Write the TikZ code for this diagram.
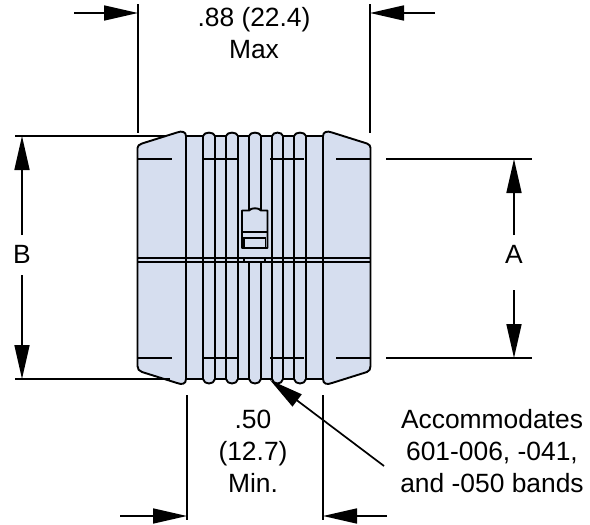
\documentclass[tikz,border=0pt]{standalone}
\usepackage{fontspec}
\setmainfont{Liberation Sans}
\usetikzlibrary{arrows.meta}

\begin{document}
\begin{tikzpicture}[
x=1pt, y=-1pt,
body/.style={fill=bodyblue, draw=black, line width=1.9pt, line join=round},
part/.style={draw=black, line width=1.9pt},
dimline/.style={draw=black, line width=1.7pt},
dimarrow/.style={draw=black, line width=1.7pt, -{Triangle[length=34pt, width=15pt]}},
dimtext/.style={font=\fontsize{26.4}{31.8}\selectfont, align=center, inner sep=0 pt},
]
\definecolor{bodyblue}{HTML}{D6DEEF}
\useasboundingbox (0,0) rectangle (590,525);

% body outline
\path[body]
(137.5,148) .. controls (137.5,146) and (139,144.5) .. (142,143.5)
-- (177,132.5) .. controls (182,130.5) and (186,132) .. (186,136)
foreach \xa/\xb in {203/215, 226/238, 249/261, 272/283, 294/306}
{ -- (\xa,136) .. controls (\xa+1,131.5) and (\xb-1,131.5) .. (\xb,136) }
-- (323,136) .. controls (323,132) and (327,130.5) .. (332,132.5)
-- (367,143.5) .. controls (369.5,144.5) and (370.5,146) .. (370.5,148)
-- (370.5,366) .. controls (370.5,369) and (369.5,371) .. (367,372)
-- (332,383) .. controls (327,385) and (323,384) .. (323,379)
foreach \xa/\xb in {306/294, 283/272, 261/249, 238/226, 215/203}
{ -- (\xa,379) .. controls (\xa-1,385) and (\xb+1,385) .. (\xb,379) }
-- (186,379) .. controls (186,384) and (182,385) .. (177,383)
-- (142,372) .. controls (139,371) and (137.5,369) .. (137.5,366)
-- cycle;

% vertical lines
\draw[part] foreach \x in {186,203,215,226,238,272,283,294,306,323}
{(\x,136) -- (\x,379)};
\draw[part] foreach \x in {249,261}
{(\x,136) -- (\x,210) (\x,262) -- (\x,379)};

% centre seam
\draw[part]
(137.5,258) -- (370.5,258)
(137.5,262) -- (370.5,262)
(244,258) -- (244,262)
(265,258) -- (265,262)
;

% short horizontal marks
\draw[part] foreach \y in {159,358}
{(137.5,\y) -- (172,\y)
(203,\y) -- (238,\y)
(270,\y) -- (304,\y)
(336,\y) -- (370.5,\y)};

% latch
\draw[part, fill=bodyblue, line join=round]
(242,248) -- (242,210.5) -- (249,210.5)
.. controls (251,207.5) and (259,207.5) .. (261,210.5)
-- (267.5,210.5) -- (267.5,248) -- cycle;
\draw[part]
(242,232) -- (267.5,232)
(244,238) rectangle (265.5,247.5)
;

% extension lines
\path
(138,4) coordinate(wl1) (138,133) coordinate(wl2)
(370,4) coordinate(wr1) (370,133) coordinate(wr2)
(15,136) coordinate(bt1) (165,136) coordinate(bt2)
(15,379) coordinate(bb1) (170,379) coordinate(bb2)
(386,159) coordinate(at1) (532,159) coordinate(at2)
(386,358) coordinate(ab1) (532,358) coordinate(ab2)
(187,395) coordinate(ml1) (187,520) coordinate(ml2)
(323,395) coordinate(mr1) (323,520) coordinate(mr2)
;
\draw[dimline]
(wl1) -- (wl2)
(wr1) -- (wr2)
(bt1) -- (bt2)
(bb1) -- (bb2)
(at1) -- (at2)
(ab1) -- (ab2)
(ml1) -- (ml2)
(mr1) -- (mr2)
;

% dimension arrows
\path
(74,13) coordinate(wla) (138,13) coordinate(wlb)
(435,13) coordinate(wra) (370,13) coordinate(wrb)
(22,235) coordinate(bta) (22,136) coordinate(btb)
(22,275) coordinate(bba) (22,379) coordinate(bbb)
(514,235) coordinate(ata) (514,159) coordinate(atb)
(514,290) coordinate(aba) (514,358) coordinate(abb)
(120,516) coordinate(mla) (187,516) coordinate(mlb)
(387,516) coordinate(mra) (323,516) coordinate(mrb)
(384,466) coordinate(lda) (270,380) coordinate(ldb)
;
\draw[dimarrow] (wla) -- (wlb);
\draw[dimarrow] (wra) -- (wrb);
\draw[dimarrow] (bta) -- (btb);
\draw[dimarrow] (bba) -- (bbb);
\draw[dimarrow] (ata) -- (atb);
\draw[dimarrow] (aba) -- (abb);
\draw[dimarrow] (mla) -- (mlb);
\draw[dimarrow] (mra) -- (mrb);
\draw[dimarrow] (lda) -- (ldb);

% labels
\node[dimtext] at (254,33) (width) {.88 (22.4)\\Max};
\node[dimtext] at (22,254) (labelB) {B};
\node[dimtext] at (514,254) (labelA) {A};
\node[dimtext] at (253,451) (minw) {.50\\(12.7)\\Min.};
\node[dimtext] at (492,451) (bands) {Accommodates\\601-006, -041,\\and -050 bands};
\end{tikzpicture}
\end{document}
